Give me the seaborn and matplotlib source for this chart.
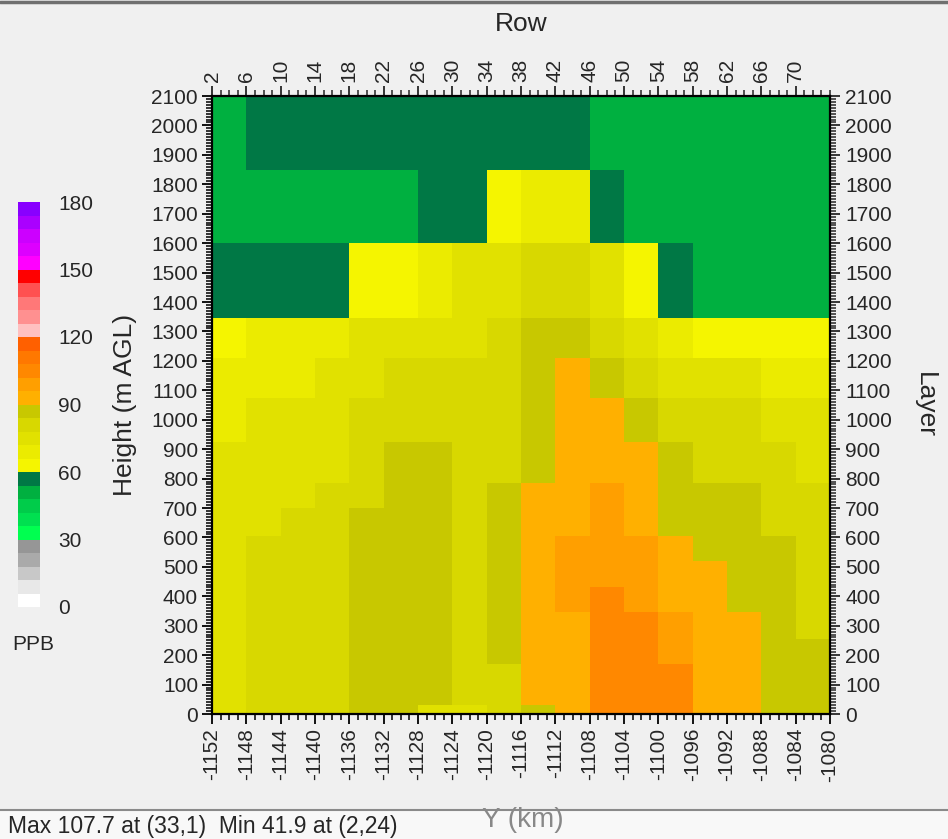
import numpy as np
import pandas as pd
import matplotlib
matplotlib.use("Agg")
import matplotlib.pyplot as plt
from matplotlib.colors import ListedColormap, Normalize
from matplotlib.cm import ScalarMappable
from matplotlib.lines import Line2D
from matplotlib.patches import Rectangle
import seaborn as sns

# ---------------- data ----------------
y_km_start = -1152
y_km_end = -1080
cell_km = 4
layer_edges_m = [0, 30, 170, 255, 345, 430, 520, 605, 700, 785, 925, 1075,
                 1210, 1345, 1600, 1850, 2100]

# concentration (ppb), one list per layer from the ground upward, 18 columns west->east
layer01 = [75, 81, 81, 81, 87, 87, 75, 75, 81, 87, 93, 105, 107.7, 105, 93, 93, 87, 87]
layer02 = [75, 81, 81, 81, 87, 87, 87, 81, 81, 93, 93, 105, 105, 105, 93, 93, 87, 87]
layer03 = [75, 81, 81, 81, 87, 87, 87, 81, 87, 93, 93, 105, 105, 99, 93, 93, 87, 87]
layer04 = [75, 81, 81, 81, 87, 87, 87, 81, 87, 93, 93, 105, 105, 99, 93, 93, 87, 81]
layer05 = [75, 81, 81, 81, 87, 87, 87, 81, 87, 93, 99, 105, 99, 93, 93, 87, 87, 81]
layer06 = [75, 81, 81, 81, 87, 87, 87, 81, 87, 93, 99, 99, 99, 93, 93, 87, 87, 81]
layer07 = [75, 81, 81, 81, 87, 87, 87, 81, 87, 93, 99, 99, 99, 93, 87, 87, 87, 81]
layer08 = [75, 75, 81, 81, 87, 87, 87, 81, 87, 93, 93, 99, 93, 87, 87, 87, 81, 81]
layer09 = [75, 75, 75, 81, 81, 87, 87, 81, 87, 93, 93, 99, 93, 87, 87, 87, 81, 81]
layer10 = [75, 75, 75, 75, 81, 87, 87, 81, 81, 87, 93, 93, 93, 87, 81, 81, 81, 75]
layer11 = [69, 75, 75, 75, 81, 81, 81, 81, 81, 87, 93, 93, 87, 81, 81, 81, 75, 75]
layer12 = [69, 69, 69, 75, 75, 81, 81, 81, 81, 87, 93, 87, 81, 75, 75, 75, 69, 69]
layer13 = [63, 69, 69, 69, 75, 75, 75, 75, 81, 87, 87, 81, 75, 69, 63, 63, 63, 63]
layer14 = [57, 57, 57, 57, 63, 63, 69, 75, 75, 81, 81, 75, 63, 57, 51, 51, 51, 51]
layer15 = [51, 51, 51, 51, 51, 51, 57, 57, 63, 69, 69, 57, 51, 51, 51, 51, 51, 51]
layer16 = [51, 57, 57, 57, 57, 57, 57, 57, 57, 57, 57, 51, 51, 51, 51, 51, 51, 51]
layers = [layer01, layer02, layer03, layer04, layer05, layer06, layer07, layer08,
          layer09, layer10, layer11, layer12, layer13, layer14, layer15, layer16]

# colour scale: 30 bins of 6 ppb from 0 to 180
scale_colors = [
    "#ffffff", "#e8e8e8", "#c8c8c8", "#aaaaaa", "#969696",
    "#00ff50", "#00e050", "#00cc4a", "#00b040", "#007845",
    "#f5f500", "#ebeb00", "#e1e100", "#d8d800", "#c8c800",
    "#ffb000", "#ff9f00", "#ff8800", "#ff7800", "#ff6000",
    "#ffc0c0", "#ff9090", "#ff7878", "#ff5050", "#ff0000",
    "#ff00ff", "#dd00ff", "#cc00ff", "#aa00ff", "#8800ff",
]
scale_min, scale_max = 0, 180
colorbar_ticks = [0, 30, 60, 90, 120, 150, 180]
row_ticks = list(range(2, 71, 4))
height_ticks = list(range(0, 2101, 100))
status_text = "Max 107.7 at (33,1)  Min 41.9 at (2,24)"

# ---------------- build table ----------------
x_edges = np.arange(y_km_start, y_km_end + 1, cell_km)
x_centres = (x_edges[:-1] + x_edges[1:]) / 2
z_edges = np.asarray(layer_edges_m, dtype=float)
z_centres = (z_edges[:-1] + z_edges[1:]) / 2
recs = []
for k, vals in enumerate(layers):
    for i, v in enumerate(vals):
        recs.append({"Y": x_centres[i], "H": z_centres[k], "ppb": v})
df = pd.DataFrame(recs)

# ---------------- figure ----------------
sns.set_theme(style="white")
plt.rcParams["font.family"] = ["Liberation Sans", "DejaVu Sans"]
BG = "#f0f0f0"
W, H = 948, 839
fig = plt.figure(figsize=(W / 100, H / 100), dpi=100, facecolor=BG)

ax = fig.add_axes([212 / W, (H - 714) / H, 618 / W, 618 / H])
ax.set_facecolor(BG)
cmap = ListedColormap(scale_colors)
sns.histplot(data=df, x="Y", y="H", weights="ppb", bins=[x_edges, z_edges],
             cmap=cmap, vmin=scale_min, vmax=scale_max, ax=ax, cbar=False,
             linewidth=0, antialiased=False)
ax.set_xlim(y_km_start, y_km_end)
ax.set_ylim(0, 2100)
ax.set_xlabel("")
ax.set_ylabel("Height (m AGL)", fontsize=19, labelpad=10)
for s in ax.spines.values():
    s.set_color("black")
    s.set_linewidth(1.6)

fs = 15
lfs = 19
ax.set_xticks(x_edges)
ax.set_xticks(np.arange(y_km_start, y_km_end + 1, 1), minor=True)
ax.set_xticklabels([str(v) for v in x_edges], rotation=90, fontsize=fs)
ax.set_yticks(height_ticks)
ax.set_yticks(np.arange(0, 2101, 10), minor=True)
ax.set_yticklabels([str(v) for v in height_ticks], fontsize=fs)
ax.tick_params(axis="both", which="major", direction="out", length=7, width=1.3,
               color="black", pad=3, bottom=True, left=True)
ax.tick_params(axis="both", which="minor", direction="out", length=4, width=1.1,
               color="black", bottom=True, left=True)

# top "Row" axis
row_off = -y_km_start + 2
top = ax.secondary_xaxis("top", functions=(lambda y: y + row_off, lambda r: r - row_off))
top.set_xticks(row_ticks)
top.set_xticks(np.arange(2, 75, 1), minor=True)
top.set_xticklabels([str(r) for r in row_ticks], rotation=90, fontsize=fs)
top.tick_params(which="major", direction="out", length=7, width=1.3, pad=3)
top.tick_params(which="minor", direction="out", length=4, width=1.1)
top.set_xlabel("Row", fontsize=lfs, labelpad=20)
top.spines["top"].set_visible(False)

# right "Layer" axis
right = ax.secondary_yaxis("right")
right.set_yticks(height_ticks)
right.set_yticks(np.arange(0, 2101, 10), minor=True)
right.set_yticklabels([str(v) for v in height_ticks], fontsize=fs)
right.tick_params(which="major", direction="out", length=7, width=1.3, pad=4)
right.tick_params(which="minor", direction="out", length=4, width=1.1)
right.set_ylabel("Layer", rotation=270, fontsize=lfs, labelpad=32)
right.spines["right"].set_visible(False)

# colour bar
cax = fig.add_axes([18 / W, (H - 607) / H, 22 / W, 405 / H])
cb = fig.colorbar(ScalarMappable(norm=Normalize(scale_min, scale_max), cmap=cmap),
                  cax=cax, ticks=colorbar_ticks)
cb.outline.set_visible(False)
cax.tick_params(length=0, labelsize=fs, pad=13)
fig.text(12 / W, (H - 645) / H, "PPB", fontsize=15, va="center", ha="left")

# status bar
fig.patches.append(Rectangle((0, 0), 1, 29 / H, transform=fig.transFigure,
                             facecolor="#f8f8f8", edgecolor="none", zorder=1))
fig.lines.append(Line2D([0, 1], [29 / H, 29 / H], transform=fig.transFigure,
                        color="#8a8a8a", lw=1.5, zorder=2))
fig.lines.append(Line2D([0, 1], [1 - 2 / H, 1 - 2 / H], transform=fig.transFigure,
                        color="#707070", lw=2.5, zorder=2))
fig.text(8 / W, 12 / H, status_text, fontsize=16.5, va="center", ha="left", zorder=3)
fig.text(523 / W, (H - 820) / H, "Y (km)", fontsize=20, va="center", ha="center",
         color="#888888", zorder=3)

fig.savefig("out.png", dpi=100, facecolor=BG)
